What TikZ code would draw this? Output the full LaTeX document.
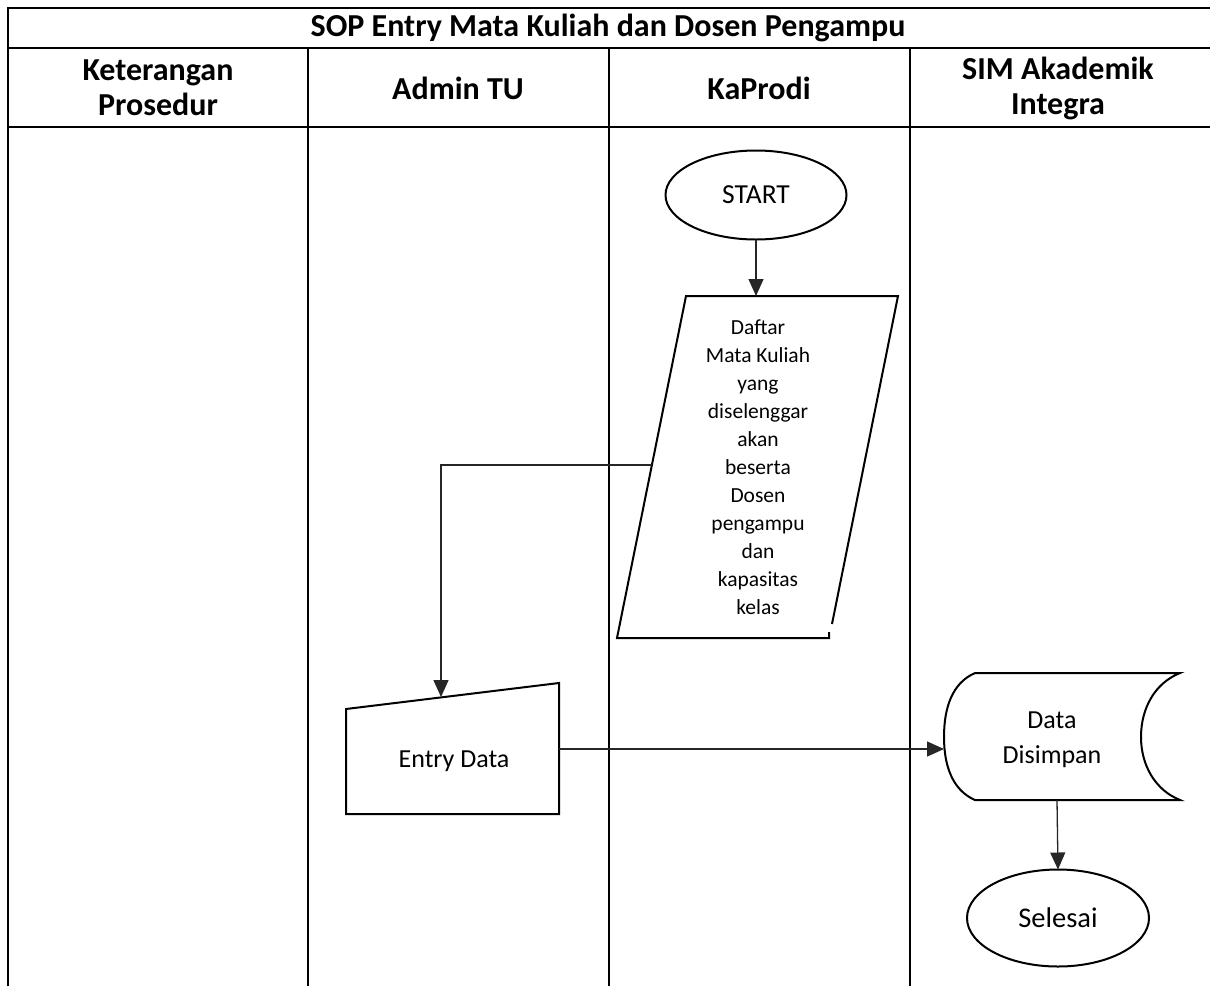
\documentclass[tikz,border=0pt]{standalone}
\usepackage{fontspec}
\setmainfont{Carlito}
\usetikzlibrary{shapes.geometric,arrows.meta}

\tikzset{
  grid/.style={line width=2.4pt, black},
  shapeline/.style={line width=2pt, black, line join=miter},
  flow/.style={line width=1.3pt, black!85, -{Triangle[length=17pt,width=15pt]}},
  headtext/.style={font=\fontsize{32}{35}\selectfont\bfseries, align=center, inner sep=0pt},
  bodytext/.style={font=\fontsize{26}{35}\selectfont, align=center, inner sep=0pt},
  smalltext/.style={font=\fontsize{21.5}{28}\selectfont, align=center, inner sep=0pt},
  terminal/.style={ellipse, draw, shapeline, inner sep=0pt, outer sep=0pt}
}

\begin{document}
\begin{tikzpicture}[x=1pt, y=-1pt]
\useasboundingbox (0,0) rectangle (1210,986);

% swimlane table
\draw[grid] (8,986) -- (8,8) -- (1210,8);
\draw[grid] (8,48) -- (1210,48);
\draw[grid] (8,127) -- (1210,127);
\foreach \cx in {308,609,910} \draw[grid] (\cx,48) -- (\cx,986);

\node[headtext] (title) at (608,28) {SOP Entry Mata Kuliah dan Dosen Pengampu};
\node[headtext] (h1) at (158,88) {Keterangan\\Prosedur};
\node[headtext] (h2) at (458,88) {Admin TU};
\node[headtext] (h3) at (759,88) {KaProdi};
\node[headtext] (h4) at (1058,88) {SIM Akademik\\Integra};

% start terminal
\node[terminal, minimum width=181pt, minimum height=89pt,
      font=\fontsize{27.5}{30}\selectfont] (start) at (756,195) {START};

% input/output parallelogram
\draw[shapeline] (832,624) -- (898,296) -- (686,296) -- (617,638) -- (829,638) -- (829,632);
\coordinate (daftarN) at (756,296);
\coordinate (daftarW) at (652,465);
\node[smalltext] (daftar) at (758,467) {Daftar\\Mata Kuliah\\yang\\diselenggar\\akan\\beserta\\Dosen\\pengampu\\dan\\kapasitas\\kelas};

% manual input
\draw[shapeline] (346,709) -- (559,683) -- (559,814) -- (346,814) -- cycle;
\node[bodytext] (entry) at (454,761) {Entry Data};
\coordinate (entryN) at (441,697);
\coordinate (entryE) at (559,749);

% stored data
\draw[shapeline] (975,673) -- (1180,673)
  .. controls (1155,683) and (1141,708) .. (1141,737)
  .. controls (1141,765) and (1155,790) .. (1180,800)
  -- (975,800)
  .. controls (952,790) and (944,765) .. (944,737)
  .. controls (944,708) and (952,683) .. (975,673) -- cycle;
\node[bodytext] (store) at (1052,740) {Data\\Disimpan};
\coordinate (storeW) at (944,749);
\coordinate (storeS) at (1057,800);

% end terminal
\node[terminal, minimum width=182pt, minimum height=97pt,
      font=\fontsize{28.5}{30}\selectfont] (end) at (1058,918) {Selesai};

% connectors
\draw[flow] (start.south) -- (daftarN);
\draw[flow] (daftarW) -| (entryN);
\draw[flow] (entryE) -- (storeW);
\draw[flow] (storeS) -- (end.north);
\end{tikzpicture}
\end{document}
